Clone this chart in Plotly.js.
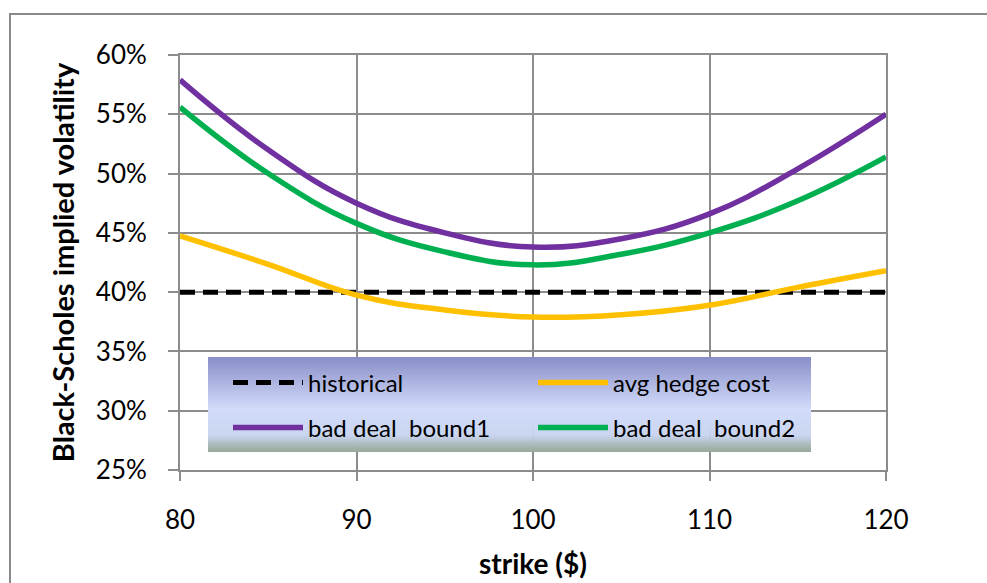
<!DOCTYPE html>
<html>
<head>
<meta charset="utf-8">
<script src="https://cdn.plot.ly/plotly-3.0.1.min.js"></script>
<style>html,body{margin:0;padding:0;background:#fff;}#chart{width:987px;height:583px;}</style>
</head>
<body>
<div id="chart"></div>
<script>
// Data
const strikes = [80, 85, 90, 95, 100, 105, 110, 115, 120];
const historical = [0.40, 0.40, 0.40, 0.40, 0.40, 0.40, 0.40, 0.40, 0.40];
const avgHedgeCost = [0.4475, 0.4235, 0.3975, 0.385, 0.379, 0.381, 0.389, 0.404, 0.418];
const badDealBound1 = [0.579, 0.520, 0.475, 0.450, 0.438, 0.445, 0.466, 0.504, 0.550];
const badDealBound2 = [0.556, 0.500, 0.458, 0.434, 0.423, 0.432, 0.450, 0.477, 0.514];
const seriesNames = ['historical', 'avg hedge cost', 'bad deal  bound1', 'bad deal  bound2'];
const xTicks = [80, 90, 100, 110, 120];
const yTicks = [0.25, 0.30, 0.35, 0.40, 0.45, 0.50, 0.55, 0.60];

const FONT = 'Lato, "Liberation Sans", sans-serif';

const traces = [
  {x: strikes, y: historical, name: seriesNames[0], mode: 'lines', legend: 'legend',
   line: {color: '#000000', width: 5, dash: '15px,8px'}},
  {x: strikes, y: avgHedgeCost, name: seriesNames[1], mode: 'lines', legend: 'legend',
   line: {color: '#FFC000', width: 5.5, shape: 'spline', smoothing: 1.2}},
  {x: strikes, y: badDealBound1, name: seriesNames[2], mode: 'lines', legend: 'legend2',
   line: {color: '#7030A0', width: 5.5, shape: 'spline', smoothing: 1.2}},
  {x: strikes, y: badDealBound2, name: seriesNames[3], mode: 'lines', legend: 'legend2',
   line: {color: '#00B050', width: 5.5, shape: 'spline', smoothing: 1.2}}
];

// plot area geometry
const L = 180, R = 886, T = 55, B = 470, W = 987, H = 583;
const pw = R - L, ph = B - T;
const px = v => (v - L) / pw;
const py = v => (B - v) / ph;

// gradient legend background (strips)
function lerp(a, b, t) { return a.map((v, i) => Math.round(v + (b[i] - v) * t)); }
const stops = [[0, [138, 142, 200]], [0.55, [210, 220, 250]], [0.82, [200, 212, 240]], [1, [150, 168, 150]]];
function colAt(t) {
  for (let i = 0; i < stops.length - 1; i++) {
    if (t <= stops[i + 1][0]) {
      const f = (t - stops[i][0]) / (stops[i + 1][0] - stops[i][0]);
      const c = lerp(stops[i][1], stops[i + 1][1], f);
      return 'rgb(' + c.join(',') + ')';
    }
  }
  return 'rgb(' + stops[stops.length - 1][1].join(',') + ')';
}
const shapes = [];
const lgTop = 357, lgBot = 452, lgL = 208, lgR = 811;
const nStrips = 48;
for (let i = 0; i < nStrips; i++) {
  const y0 = lgTop + (lgBot - lgTop) * i / nStrips;
  const y1 = lgTop + (lgBot - lgTop) * (i + 1) / nStrips + 0.6;
  shapes.push({type: 'rect', xref: 'paper', yref: 'paper', layer: 'above',
    x0: px(lgL), x1: px(lgR), y0: py(Math.min(y1, lgBot)), y1: py(y0),
    line: {width: 0}, fillcolor: colAt((i + 0.5) / nStrips)});
}
// outer chart border
shapes.push({type: 'rect', xref: 'paper', yref: 'paper', layer: 'below',
  x0: px(10), x1: px(W + 20), y0: py(H + 20), y1: py(14),
  line: {color: '#8a8a8a', width: 2}, fillcolor: 'rgba(0,0,0,0)'});

const legendCommon = {
  orientation: 'h', x: px(228), xanchor: 'left', yanchor: 'middle',
  bgcolor: 'rgba(0,0,0,0)', borderwidth: 0, entrywidth: 220, entrywidthmode: 'pixels',
  itemwidth: 70, font: {family: FONT, size: 24, color: '#000'}
};

const layout = {
  width: W, height: H,
  margin: {l: L, r: W - R, t: T, b: H - B},
  paper_bgcolor: '#ffffff', plot_bgcolor: '#ffffff',
  font: {family: FONT, color: '#000000', size: 26},
  showlegend: true,
  xaxis: {
    range: [80, 120], tickvals: xTicks, ticktext: xTicks.map(String),
    showgrid: true, gridcolor: '#8c8c8c', gridwidth: 2,
    showline: true, linecolor: '#8c8c8c', linewidth: 2, mirror: true,
    ticks: 'outside', ticklen: 9, tickcolor: '#8c8c8c', tickwidth: 2,
    ticklabelstandoff: 17, zeroline: false,
    tickfont: {family: FONT, size: 26, color: '#000'},
    title: {text: '<b>strike ($)</b>', font: {family: FONT, size: 28, color: '#000'}, standoff: 20}
  },
  yaxis: {
    range: [0.25, 0.60], tickvals: yTicks, tickformat: '.0%',
    showgrid: true, gridcolor: '#8c8c8c', gridwidth: 2,
    showline: true, linecolor: '#8c8c8c', linewidth: 2, mirror: true,
    ticks: 'outside', ticklen: 10, tickcolor: '#8c8c8c', tickwidth: 2,
    ticklabelstandoff: 16, zeroline: false,
    tickfont: {family: FONT, size: 26, color: '#000'},
    title: {text: '<b>Black-Scholes implied volatility</b>', font: {family: FONT, size: 29, color: '#000'}, standoff: 13}
  },
  legend: Object.assign({}, legendCommon, {y: py(383)}),
  legend2: Object.assign({}, legendCommon, {y: py(428)}),
  shapes: shapes
};

Plotly.newPlot('chart', traces, layout, {displayModeBar: false, staticPlot: true});
</script>
</body>
</html>
